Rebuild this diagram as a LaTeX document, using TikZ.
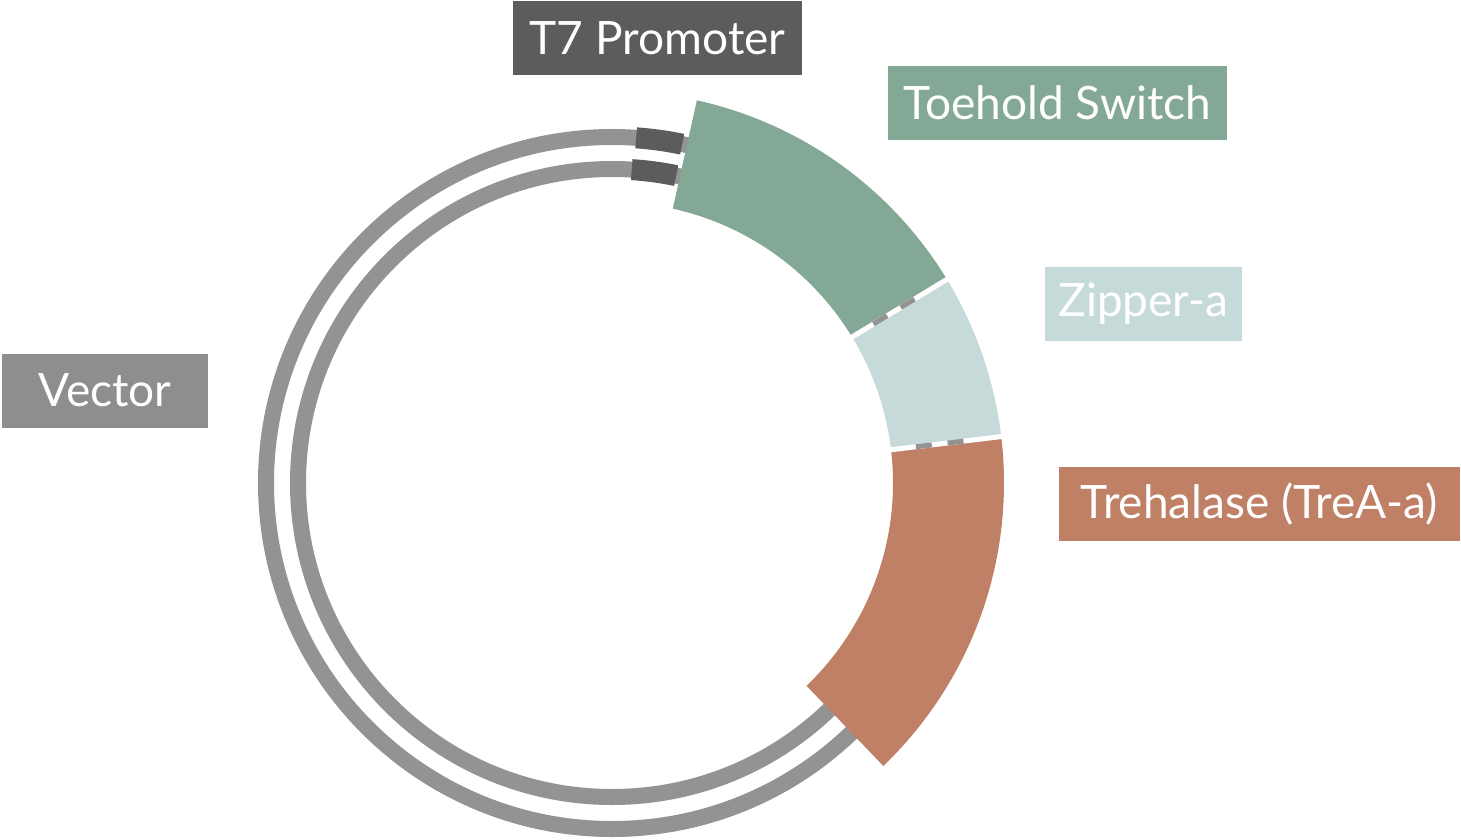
\documentclass[tikz,border=0pt]{standalone}
\usepackage{fontspec}
\setmainfont{Lato}
\definecolor{ringgray}{HTML}{939393}
\definecolor{promgray}{HTML}{5C5C5C}
\definecolor{vecgray}{HTML}{8E8E8E}
\definecolor{toegreen}{HTML}{84A896}
\definecolor{zipblue}{HTML}{C6DAD9}
\definecolor{trebrown}{HTML}{BF8066}
\tikzset{
  genebox/.style={fill=#1, text=white, font=\fontsize{46}{46}\selectfont, minimum height=74pt, inner sep=0pt},
  ring/.style={draw=ringgray, line width=16pt},
  promblock/.style={draw=promgray, line width=21pt},
}
% annular sector: start angle, end angle, colour
\newcommand{\genesector}[3]{%
  \fill[#3] (#1:392pt) arc[start angle=#1, end angle=#2, radius=392pt]
    -- (#2:281pt) arc[start angle=#2, end angle=#1, radius=281pt] -- cycle;
}
\begin{document}
\begin{tikzpicture}
    \useasboundingbox (0,0) rectangle (1461pt,-840pt);
    \begin{scope}[shift={(612pt,-483pt)}]
        \draw[ring] (0,0) circle[radius=346pt];
        \draw[ring] (0,0) circle[radius=314pt];
        \draw[promblock] (78.3:346pt) arc[start angle=78.3, end angle=86, radius=346pt];
        \draw[promblock] (78.2:314pt) arc[start angle=78.2, end angle=86.4, radius=314pt];
        \genesector{77.5}{31.3}{toegreen}
        \genesector{31.3}{6.8}{zipblue}
        \genesector{6.8}{-46.2}{trebrown}
        % gaps between the genes, with the rings showing through
        \foreach \a in {31.3,6.8} {
        \begin{scope}[rotate=\a]
            \fill[white] (270pt,-2.5pt) rectangle (400pt,2.5pt);
            \clip (270pt,-2.5pt) rectangle (400pt,2.5pt);
            \draw[ring] (0,0) circle[radius=346pt];
            \draw[ring] (0,0) circle[radius=314pt];
        \end{scope}
        }
    \end{scope}
    \node[genebox=promgray, minimum width=289pt] (t7) at (657.5pt,-38.5pt) {T7 Promoter};
    \node[genebox=toegreen, minimum width=339pt] (toehold) at (1057.5pt,-103pt) {Toehold Switch};
    \node[genebox=zipblue, minimum width=197pt] (zipper) at (1143.5pt,-304pt) {Zipper-a};
    \node[genebox=trebrown, minimum width=401pt] (trehalase) at (1259.5pt,-504pt) {Trehalase (TreA-a)};
    \node[genebox=vecgray, minimum width=206pt] (vector) at (105pt,-390.5pt) {Vector};
\end{tikzpicture}
\end{document}
